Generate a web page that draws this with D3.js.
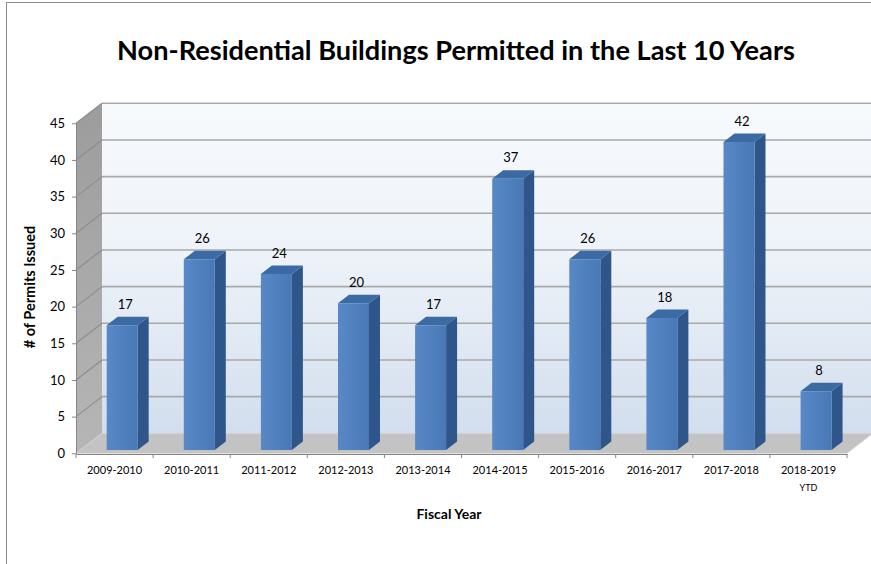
<!DOCTYPE html>
<html>
<head>
<meta charset="utf-8">
<script src="https://cdn.jsdelivr.net/npm/d3@7"></script>
<style>
  body { margin: 0; background: #fff; }
  svg { display: block; }
  text { font-family: Lato, "Open Sans", sans-serif; fill: #000; }
</style>
</head>
<body>
<svg id="chart" width="871" height="564"></svg>
<script>
// Fiscal years and the number of non-residential building permits issued in each
const categories = ["2009-2010", "2010-2011", "2011-2012", "2012-2013", "2013-2014",
                    "2014-2015", "2015-2016", "2016-2017", "2017-2018", "2018-2019"];
const subLabels = ["", "", "", "", "", "", "", "", "", "YTD"];
const permits = [17, 26, 24, 20, 17, 37, 26, 18, 42, 8];
const yTicks = [0, 5, 10, 15, 20, 25, 30, 35, 40, 45];

const svg = d3.select("#chart");

// Front plane scales; the back wall is the front plane pushed along the depth vector
const x = d3.scaleBand().domain(categories).range([76, 847]).paddingInner(0).paddingOuter(0);
const y = d3.scaleLinear().domain([0, 45]).range([453.3, 123.3]);
const depth = { dx: 26, dy: -20 };
const proj = (px, py, d) => [px + d * depth.dx, py + d * depth.dy];
const poly = pts => pts.map(p => p.join(",")).join(" ");

const defs = svg.append("defs");
const wallGrad = defs.append("linearGradient").attr("id", "wallGrad")
  .attr("x1", 0).attr("y1", 0).attr("x2", 0).attr("y2", 1);
wallGrad.append("stop").attr("offset", "0%").attr("stop-color", "#f7fafd");
wallGrad.append("stop").attr("offset", "45%").attr("stop-color", "#eef3f9");
wallGrad.append("stop").attr("offset", "100%").attr("stop-color", "#d2deee");

const sideGrad = defs.append("linearGradient").attr("id", "sideGrad")
  .attr("x1", 0).attr("y1", 0).attr("x2", 0).attr("y2", 1);
sideGrad.append("stop").attr("offset", "0%").attr("stop-color", "#9c9c9c");
sideGrad.append("stop").attr("offset", "100%").attr("stop-color", "#b6b6b6");

const frontGrad = defs.append("linearGradient").attr("id", "frontGrad")
  .attr("x1", 0).attr("y1", 0).attr("x2", 1).attr("y2", 0);
frontGrad.append("stop").attr("offset", "0%").attr("stop-color", "#5889c6");
frontGrad.append("stop").attr("offset", "100%").attr("stop-color", "#4878b5");

// Chart frame
svg.append("rect")
  .attr("x", 6.5).attr("y", 2.5).attr("width", 900).attr("height", 600)
  .attr("fill", "#fff").attr("stroke", "#8a8a8a").attr("stroke-width", 1);

const [xL, xR] = x.range();

// Back wall
svg.append("polygon")
  .attr("points", poly([proj(xL, y(45), 1), proj(xR, y(45), 1), proj(xR, y(0), 1), proj(xL, y(0), 1)]))
  .attr("fill", "url(#wallGrad)");

// Back wall gridlines
svg.append("g").selectAll("line").data(yTicks.filter(t => t > 0)).join("line")
  .attr("x1", t => proj(xL, y(t), 1)[0]).attr("y1", t => proj(xL, y(t), 1)[1])
  .attr("x2", t => proj(xR, y(t), 1)[0]).attr("y2", t => proj(xR, y(t), 1)[1])
  .attr("stroke", "#a9a9a9").attr("stroke-width", 1.6);

// Side wall
svg.append("polygon")
  .attr("points", poly([proj(xL, y(45), 0), proj(xL, y(45), 1), proj(xL, y(0), 1), proj(xL, y(0), 0)]))
  .attr("fill", "url(#sideGrad)");

svg.append("g").selectAll("line").data(yTicks.filter(t => t > 0)).join("line")
  .attr("x1", t => proj(xL, y(t), 0)[0]).attr("y1", t => proj(xL, y(t), 0)[1])
  .attr("x2", t => proj(xL, y(t), 1)[0]).attr("y2", t => proj(xL, y(t), 1)[1])
  .attr("stroke", "#8d8d8d").attr("stroke-width", 1.2);

// Floor
svg.append("polygon")
  .attr("points", poly([proj(xL, y(0), 0), proj(xL, y(0), 1), proj(xR, y(0), 1), proj(xR, y(0), 0)]))
  .attr("fill", "#c3c3c3").attr("stroke", "#d4d4d4").attr("stroke-width", 0.8);

// Bars: front face, top and right side
const d0 = 0.165, d1 = 0.588, barOffset = 26.4, barWidth = 31;
const bars = svg.append("g").selectAll("g").data(categories.map((c, i) => ({ c, v: permits[i] }))).join("g");

bars.append("polygon")
  .attr("points", d => {
    const x0 = x(d.c) + barOffset, x1 = x0 + barWidth;
    return poly([proj(x1, y(d.v), d0), proj(x1, y(0), d0), proj(x1, y(0), d1), proj(x1, y(d.v), d1)]);
  })
  .attr("fill", "#2f568a");

bars.append("polygon")
  .attr("points", d => {
    const x0 = x(d.c) + barOffset, x1 = x0 + barWidth;
    return poly([proj(x0, y(d.v), d0), proj(x1, y(d.v), d0), proj(x1, y(d.v), d1), proj(x0, y(d.v), d1)]);
  })
  .attr("fill", "#3b6aa5");

bars.append("polygon")
  .attr("points", d => {
    const x0 = x(d.c) + barOffset, x1 = x0 + barWidth;
    return poly([proj(x0, y(d.v), d0), proj(x1, y(d.v), d0), proj(x1, y(0), d0), proj(x0, y(0), d0)]);
  })
  .attr("fill", "url(#frontGrad)");

// Value labels above each bar
bars.append("text")
  .attr("x", d => proj(x(d.c) + barOffset + barWidth / 2, 0, d0)[0] + 3)
  .attr("y", d => proj(0, y(d.v), d1)[1] - 8)
  .attr("text-anchor", "middle")
  .attr("font-size", 13)
  .text(d => d.v);

// Value axis
const yAxis = svg.append("g").attr("transform", `translate(${xL},0)`)
  .call(d3.axisLeft(y).tickValues(yTicks).tickSize(4).tickSizeOuter(0).tickPadding(7));
yAxis.selectAll("text").attr("font-size", 13).attr("font-family", "Lato, sans-serif");
yAxis.select(".domain").attr("stroke", "#868686");
yAxis.selectAll(".tick line").attr("stroke", "#868686");

// Category axis with ticks between the categories
const axisY = 454;
const xAxis = svg.append("g").attr("transform", `translate(0,${axisY})`)
  .call(d3.axisBottom(x).tickSize(0).tickPadding(12));
xAxis.select(".domain").attr("stroke", "#868686");
xAxis.selectAll("text").attr("font-size", 11).attr("font-family", "Lato, sans-serif");
xAxis.selectAll(".tick").append("text")
  .attr("y", 37).attr("text-anchor", "middle").attr("font-size", 9)
  .attr("font-family", "Lato, sans-serif").attr("fill", "#000")
  .text((c, i) => subLabels[i]);
svg.append("g").selectAll("line").data(categories.map(c => x(c)).concat([xR])).join("line")
  .attr("x1", d => d).attr("x2", d => d).attr("y1", axisY).attr("y2", axisY + 4)
  .attr("stroke", "#868686");

// Titles
const title = svg.append("text")
  .attr("x", 456).attr("y", 60).attr("text-anchor", "middle")
  .attr("font-weight", "bold").attr("font-size", 24)
  .text("Non-Residential Buildings Permitted in the Last 10 Years");
const tLen = title.node().getComputedTextLength();
title.attr("font-size", 24 * 678 / tLen);

svg.append("text")
  .attr("transform", "translate(35,287) rotate(-90)")
  .attr("text-anchor", "middle").attr("font-weight", "bold").attr("font-size", 14.5)
  .text("# of Permits Issued");

svg.append("text")
  .attr("x", 449).attr("y", 519).attr("text-anchor", "middle")
  .attr("font-weight", "bold").attr("font-size", 14)
  .text("Fiscal Year");
</script>
</body>
</html>
